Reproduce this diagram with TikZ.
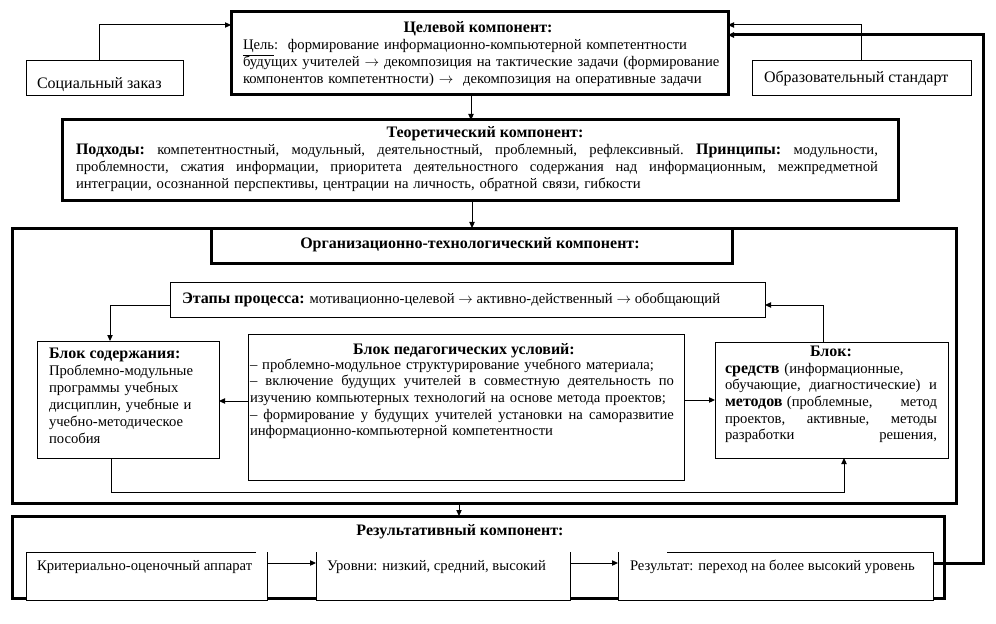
\documentclass[tikz,border=0pt]{standalone}
\usepackage{fontspec}
\setmainfont{Liberation Serif}
\usetikzlibrary{arrows.meta,calc}
\newcommand\bodyfont{\fontsize{11pt}{12.5pt}\selectfont}
\newcommand\bigfont{\fontsize{12pt}{12.5pt}\selectfont}
\newcommand\bt[1]{{\bigfont\bfseries #1}}
\newcommand\ar{$\rightarrow$}
\newcommand\jl[2]{\leavevmode\hbox to #1{\frenchspacing\spaceskip=0.25em plus 1fil\relax #2}}
\begin{document}
\begin{tikzpicture}[x=0.75pt,y=-0.75pt,
  frame/.style={draw, line width=0.75pt, fill=white, anchor=north west, inner sep=0pt, outer sep=0pt},
  thickframe/.style={frame, line width=2.25pt},
  blank/.style={fill=white, anchor=north west, inner sep=0pt, outer sep=0pt},
  txt/.style={inner sep=0pt, outer sep=0pt, font=\bodyfont, anchor=base west},
  bigtxt/.style={txt, font=\bigfont},
  ttl/.style={inner sep=0pt, outer sep=0pt, font=\bigfont\bfseries, anchor=base},
  conn/.style={line width=0.75pt, -{Triangle[length=4.5pt,width=4pt]}},
  thickconn/.style={line width=2.25pt, -{Triangle[length=4.5pt,width=4pt]}},
  edge/.style={line width=0.75pt}
]
\useasboundingbox (0,0) rectangle (996,624);

% --- top row ---
\node[frame, minimum width=117.75pt, minimum height=26.25pt] (social) at (26,61) {};
\node[bigtxt] (socialt) at (37,89) {Социальный заказ};
\node[thickframe, minimum width=372.75pt, minimum height=62.25pt] (goal) at (231,12) {};
\node[ttl] (goalt) at (478,33) {Целевой компонент:};
\node[txt, text width=360pt, align=left] (goalb) at (243,50) {\underline{Цель}:\ \ формирование информационно-компьютерной компетентности\\
будущих учителей \ar{} декомпозиция на тактические задачи (формирование\\
компонентов компетентности) \ar\ \ декомпозиция на оперативные задачи};
\node[frame, minimum width=164.25pt, minimum height=26.25pt] (std) at (752,61) {};
\node[bigtxt] (stdt) at (764,83) {Образовательный стандарт};

% --- theoretical ---
\node[thickframe, minimum width=627pt, minimum height=60.75pt] (theo) at (62,120) {};
\node[ttl] (theot) at (485,138) {Теоретический компонент:};
\node[txt, text width=601.5pt] (theob) at (76,155) {\jl{601.5pt}{\bt{Подходы:} компетентностный, модульный, деятельностный, проблемный, рефлексивный. \bt{Принципы:} модульности,}\\
\jl{601.5pt}{проблемности, сжатия информации, приоритета деятельностного содержания над информационным, межпредметной}\\
интеграции, осознанной перспективы, центрации на личность, обратной связи, гибкости};

% --- organisational ---
\node[thickframe, minimum width=708pt, minimum height=206.25pt] (org) at (12,228) {};
\node[thickframe, minimum width=390.75pt, minimum height=26.25pt] (orghead) at (211,228) {};
\node[ttl] (orgt) at (470,248) {Организационно-технологический компонент:};
\node[frame, minimum width=446.25pt, minimum height=26.25pt] (stages) at (170,282) {};
\node[txt] (stagest) at (182,303) {\bt{Этапы процесса:} мотивационно-целевой \ar{} активно-действенный \ar{} обобщающий};

\node[frame, minimum width=136.5pt, minimum height=87.75pt] (content) at (37,341) {};
\node[txt, font=\bigfont\bfseries] (contentt) at (49,358) {Блок содержания:};
\node[txt, text width=132pt, align=left, font=\fontsize{11pt}{12.75pt}\selectfont] (contentb) at (49,375) {Проблемно-модульные\\
программы учебных\\
дисциплин, учебные и\\
учебно-методическое\\
пособия};

\node[frame, minimum width=327pt, minimum height=109.5pt] (cond) at (248,334) {};
\node[ttl] (condt) at (464,354) {Блок педагогических условий:};
\node[txt, text width=318pt] (condb) at (250,369) {– проблемно-модульное структурирование учебного материала;\\
\jl{318pt}{– включение будущих учителей в совместную деятельность по}\\
изучению компьютерных технологий на основе метода проектов;\\
\jl{318pt}{– формирование у будущих учителей установки на саморазвитие}\\
информационно-компьютерной компетентности};

\node[frame, minimum width=174.75pt, minimum height=87pt] (means) at (715,342) {};
\node[ttl] (meanst) at (831,356) {Блок:};
\node[txt, text width=159pt] (meansb) at (725,373) {\bt{средств} (информационные,\\
\jl{159pt}{обучающие, диагностические) и}\\
\jl{159pt}{\bt{методов}\hspace{0.3em}(проблемные, метод}\\
\jl{159pt}{проектов, активные, методы}\\
\jl{159pt}{разработки решения,}};

% --- result ---
\node[thickframe, minimum width=699pt, minimum height=61.5pt] (res) at (12,516) {};
\node[ttl] (rest) at (460,535) {Результативный компонент:};
\node[blank, minimum width=180.75pt, minimum height=36pt] (crit) at (26,552) {};
\draw[edge] ($(crit.north west)+(230,0)$) -- (crit.north west) |- (crit.south east) -- (crit.north east);
\node[txt] (critt) at (37,570) {Критериально-оценочный аппарат};
\node[blank, minimum width=190.5pt, minimum height=36pt] (levels) at (316,552) {};
\draw[edge] (levels.north west) |- (levels.south east) -- (levels.north east);
\node[txt] (levelst) at (327,570) {Уровни: низкий, средний, высокий};
\node[blank, minimum width=236.25pt, minimum height=36pt] (outcome) at (618,552) {};
\draw[edge] ($(outcome.north west)+(49,0)$) -- (outcome.north east) |- (outcome.south west) -- (outcome.north west);
\node[txt] (outcomet) at (630,570) {Результат: переход на более высокий уровень};

% --- connectors ---
\draw[conn] ([xshift=-3.75pt]social.north) |- ($(goal.north west)+(0,13)$);
\draw[conn] ($(std.north west)+(109,0)$) |- ($(goal.north east)+(0,13)$);
\coordinate (g1) at ($(goal.south west)+(240,0)$);
\draw[conn] (g1) -- (g1 |- theo.north);
\coordinate (t1) at ($(theo.south west)+(410,0)$);
\draw[conn] (t1) -- (t1 |- org.north);
\coordinate (s1) at ($(stages.south west)+(0,-12)$);
\draw[conn] (s1) -| ($(content.north west)+(73,0)$);
\draw[conn] ($(means.north west)+(108,0)$) |- ($(stages.south east)+(0,-12)$);
\coordinate (c1) at ($(cond.north west)+(0,67)$);
\draw[conn] (c1) -- (c1 -| content.east);
\coordinate (c2) at ($(cond.north east)+(0,66)$);
\draw[conn] (c2) -- (c2 -| means.west);
\draw[conn] ($(content.south west)+(74,0)$) -- ++(0,34) -| ($(means.south west)+(129,0)$);
\coordinate (o1) at ($(org.south west)+(447,0)$);
\draw[conn] (o1) -- (o1 |- res.north);
\coordinate (l1) at ($(crit.north east)+(0,11)$);
\draw[conn] (l1) -- (l1 -| levels.west);
\coordinate (l2) at ($(levels.north east)+(0,11)$);
\draw[conn] (l2) -- (l2 -| outcome.west);
\draw[thickconn] ($(outcome.north east)+(0,11)$) -- ++(50,0) |- ($(goal.north east)+(0,23)$);
\end{tikzpicture}
\end{document}
